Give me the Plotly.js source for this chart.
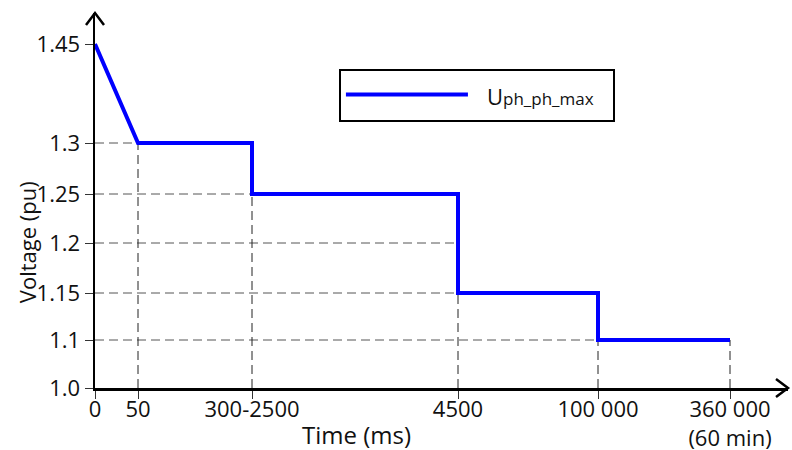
<!DOCTYPE html>
<html><head><meta charset="utf-8">
<script src="https://cdn.plot.ly/plotly-3.0.1.min.js"></script>
<style>html,body{margin:0;padding:0;background:#fff}#chart{width:792px;height:450px}</style>
</head><body><div id="chart"></div>
<script>
// ---- data ----
const timeKeys = ['0', '50', '300-2500', '4500', '100 000', '360 000'];
const timeLabels = ['0', '50', '300-2500', '4500', '100 000', '360 000<br>(60 min)'];
const voltageTicks = [1.0, 1.1, 1.15, 1.2, 1.25, 1.3, 1.45];
const voltageLabels = ['1.0', '1.1', '1.15', '1.2', '1.25', '1.3', '1.45'];
const seriesTime = ['0', '50', '300-2500', '300-2500', '4500', '4500', '100 000', '100 000', '360 000'];
const seriesVoltage = [1.45, 1.3, 1.3, 1.25, 1.25, 1.15, 1.15, 1.1, 1.1];
const seriesName = '&nbsp;&nbsp;<span style="font-size:22px">U</span><span style="font-size:17px">ph_ph_max</span>&nbsp;&nbsp;';

// ---- broken (non-linear) axis scales: tick -> axis position ----
const timeScale = [0, 43, 157, 363, 503, 635];
const voltageScale = [0, 48, 95, 145, 194, 245, 344];

function tPos(key) { return timeScale[timeKeys.indexOf(key)]; }
function vPos(v) {
  for (let i = 0; i < voltageTicks.length - 1; i++) {
    const a = voltageTicks[i], b = voltageTicks[i + 1];
    if (v >= a && v <= b) return voltageScale[i] + (v - a) / (b - a) * (voltageScale[i + 1] - voltageScale[i]);
  }
  return v < voltageTicks[0] ? voltageScale[0] : voltageScale[voltageScale.length - 1];
}

const lineX = seriesTime.map(tPos);
const lineY = seriesVoltage.map(vPos);

const traces = [];
const txtColor = '#111';

// horizontal dashed guides: from axis to where the curve first reaches that level
voltageTicks.forEach(function (lv) {
  const idx = seriesVoltage.findIndex(function (v) { return v <= lv + 1e-9; });
  if (idx <= 0) return;
  traces.push({
    x: [0, lineX[idx]], y: [vPos(lv), vPos(lv)], mode: 'lines', type: 'scatter',
    line: {color: '#555', width: 1, dash: '9px,5px'}, showlegend: false, hoverinfo: 'skip'
  });
});
// vertical dashed guides: from axis up to the curve at each time tick
timeKeys.forEach(function (k, i) {
  if (i === 0) return;
  let mn = Infinity;
  seriesTime.forEach(function (t, j) { if (t === k) mn = Math.min(mn, seriesVoltage[j]); });
  if (!isFinite(mn)) return;
  traces.push({
    x: [tPos(k), tPos(k)], y: [0, vPos(mn)], mode: 'lines', type: 'scatter',
    line: {color: '#222', width: 1, dash: '9px,5px'}, showlegend: false, hoverinfo: 'skip'
  });
});

traces.push({
  x: lineX, y: lineY, mode: 'lines', type: 'scatter', name: seriesName,
  line: {color: '#0000ff', width: 4}, showlegend: true
});

const layout = {
  width: 792, height: 450,
  margin: {l: 95, r: 4, t: 13, b: 62},
  paper_bgcolor: '#fff', plot_bgcolor: '#fff',
  font: {family: '"Open Sans", "Noto Sans", sans-serif', color: txtColor, size: 22},
  xaxis: {
    range: [0, 693], showgrid: false, zeroline: false, fixedrange: true,
    tickmode: 'array', tickvals: timeScale, ticktext: timeLabels,
    ticks: 'outside', ticklen: 8, tickcolor: '#333', tickwidth: 1,
    ticklabelstandoff: -8,
    showline: true, linecolor: '#000', linewidth: 2.5,
    tickfont: {size: 22, color: txtColor}
  },
  yaxis: {
    range: [0, 375], showgrid: false, zeroline: false, fixedrange: true,
    tickmode: 'array', tickvals: voltageScale, ticktext: voltageLabels,
    ticks: 'outside', ticklen: 8, tickcolor: '#333', tickwidth: 1,
    showline: true, linecolor: '#000', linewidth: 2.5,
    tickfont: {size: 22, color: txtColor}
  },
  showlegend: true,
  legend: {
    x: 0.352, y: 0.852, xanchor: 'left', yanchor: 'top',
    bordercolor: '#000', borderwidth: 2, bgcolor: '#fff',
    itemwidth: 122, font: {size: 27, color: txtColor}
  },
  annotations: [
    {text: 'Time (ms)', xref: 'paper', yref: 'paper', x: 0.377, y: -0.124,
     xanchor: 'center', yanchor: 'middle', showarrow: false, font: {size: 24, color: txtColor}},
    {text: 'Voltage (pu)', xref: 'paper', yref: 'paper', x: -0.099, y: 0.39,
     xanchor: 'center', yanchor: 'middle', textangle: -90, showarrow: false, font: {size: 22, color: txtColor}}
  ],
  shapes: [
    {type: 'path', xref: 'paper', yref: 'paper', xsizemode: 'pixel', ysizemode: 'pixel',
     xanchor: 0, yanchor: 1, path: 'M-9,-12L0,0L9,-12', line: {color: '#000', width: 2.5}},
    {type: 'path', xref: 'paper', yref: 'paper', xsizemode: 'pixel', ysizemode: 'pixel',
     xanchor: 1, yanchor: 0, path: 'M-12,9L0,0L-12,-9', line: {color: '#000', width: 2.5}}
  ]
};

Plotly.newPlot('chart', traces, layout, {displayModeBar: false, staticPlot: true});
</script>
</body></html>
